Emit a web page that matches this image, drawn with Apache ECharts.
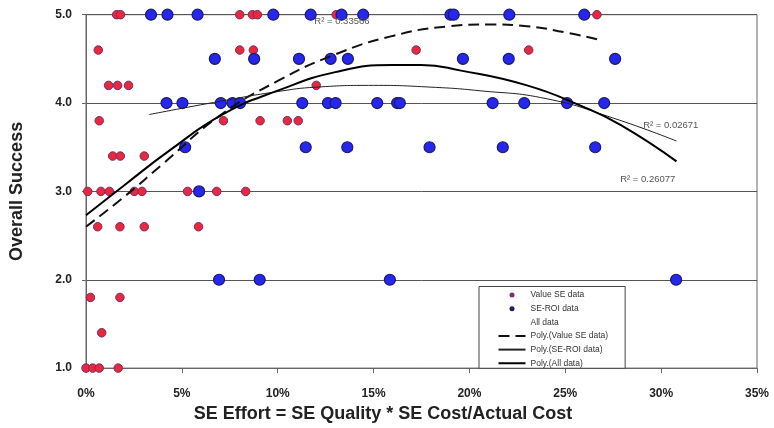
<!DOCTYPE html>
<html>
<head>
<meta charset="utf-8">
<script src="https://cdn.jsdelivr.net/npm/echarts@6/dist/echarts.min.js"></script>
<style>
html,body{margin:0;padding:0;background:#fff;}
#c{width:774px;height:428px;}
</style>
</head>
<body>
<div id="c"></div>
<script>
// Value SE data (red points): [SE effort %, overall success]
var valueSeData = [
  [1.6,5],[1.8,5],[8.02,5],[8.68,5],[8.94,5],[13.05,5],[26.65,5],
  [0.64,4.6],[8.02,4.6],[8.73,4.6],[17.22,4.6],[23.09,4.6],
  [1.18,4.2],[1.65,4.2],[2.22,4.2],[12.01,4.2],
  [0.69,3.8],[7.17,3.8],[9.08,3.8],[10.5,3.8],[11.07,3.8],
  [1.39,3.4],[1.79,3.4],[3.04,3.4],
  [0.09,3],[0.78,3],[1.22,3],[2.52,3],[2.92,3],[5.3,3],[6.82,3],[8.33,3],
  [0.61,2.6],[1.77,2.6],[3.04,2.6],[5.87,2.6],
  [0.23,1.8],[1.77,1.8],
  [0.82,1.4],
  [0.0,1],[0.35,1],[0.69,1],[1.68,1]
];
// SE-ROI data (blue points)
var seRoiData = [
  [3.39,5],[4.25,5],[5.82,5],[9.77,5],[11.72,5],[13.33,5],[14.46,5],[19.01,5],[19.18,5],[22.08,5],[25.99,5],
  [6.72,4.5],[8.77,4.5],[11.11,4.5],[12.76,4.5],[13.66,4.5],[19.66,4.5],[22.05,4.5],[27.6,4.5],
  [4.2,4],[5.03,4],[7.03,4],[7.64,4],[8.04,4],[11.28,4],[12.62,4],[13.02,4],[15.19,4],[16.23,4],[16.37,4],[21.21,4],[22.86,4],[25.09,4],[27.03,4],
  [5.17,3.5],[11.46,3.5],[13.63,3.5],[17.92,3.5],[21.74,3.5],[26.56,3.5],
  [5.9,3],
  [6.94,2],[9.06,2],[15.85,2],[30.78,2]
];
// Trend curves
var polyValueSe = [[0,2.60],[2,2.94],[4,3.31],[7,3.86],[10,4.25],[13,4.55],[16,4.76],[19,4.87],[21,4.89],[23,4.87],[25,4.80],[26.7,4.72]];
var polySeRoi = [[3.3,3.87],[7,4.02],[10,4.13],[12,4.18],[15,4.20],[18,4.18],[20.5,4.14],[24,4.05],[27.5,3.83],[30.8,3.57]];
var polyAll = [[0,2.73],[2,3.07],[4.4,3.47],[7.2,3.88],[10,4.14],[13,4.35],[16,4.43],[17.5,4.43],[19.5,4.37],[23,4.20],[25.8,3.97],[27.9,3.75],[30.8,3.34]];
// R-squared labels
var r2Labels = ['R\u00b2 = 0.33566','R\u00b2 = 0.02671','R\u00b2 = 0.26077'];
var seriesNames = ['Value SE data','SE-ROI data','All data','Poly.(Value SE data)','Poly.(SE-ROI data)','Poly.(All data)'];

var FONT = '"Liberation Sans", Arial, sans-serif';
var chart = echarts.init(document.getElementById('c'));
function r2(label, coord){
  return {
    symbol:'circle', symbolSize:2, silent:true, animation:false,
    itemStyle:{color:'rgba(0,0,0,0)', borderWidth:0},
    label:{show:true, position:'inside', formatter:label, color:'#555', fontSize:9.5, fontFamily:FONT},
    data:[{coord:coord, value:0}]
  };
}
var hiddenSym = {color:'rgba(0,0,0,0)', borderColor:'rgba(0,0,0,0)', borderWidth:0};
chart.setOption({
  animation:false,
  backgroundColor:'#fff',
  grid:{left:85, right:17, top:14.7, bottom:55, show:true, borderColor:'#666', borderWidth:1, backgroundColor:'transparent'},
  xAxis:{
    type:'value', min:0, max:35, interval:5,
    axisLine:{show:true, lineStyle:{color:'#666', width:1}},
    axisTick:{show:true, length:5, lineStyle:{color:'#666'}},
    splitLine:{show:false},
    axisLabel:{formatter:'{value}%', fontSize:12, fontWeight:'bold', color:'#222', fontFamily:FONT, margin:20},
    name:'SE Effort = SE Quality * SE Cost/Actual Cost',
    nameLocation:'middle', nameGap:29,
    nameTextStyle:{fontSize:18, fontWeight:'bold', color:'#222', fontFamily:FONT, padding:[0,77,0,0]}
  },
  yAxis:{
    type:'value', min:1, max:5, interval:1,
    axisLine:{show:true, lineStyle:{color:'#666', width:1}},
    axisTick:{show:true, length:4, lineStyle:{color:'#666'}},
    splitLine:{show:true, lineStyle:{color:'#555', width:1}},
    axisLabel:{formatter:function(v){return v.toFixed(1);}, fontSize:12, fontWeight:'bold', color:'#222', fontFamily:FONT, margin:14},
    name:'Overall Success', nameLocation:'middle', nameGap:60,
    nameTextStyle:{fontSize:18, fontWeight:'bold', color:'#222', fontFamily:FONT}
  },
  legend:{
    orient:'vertical', left:479, top:286.5,
    padding:[3.5,17,0,18.5],
    borderColor:'#444', borderWidth:1, backgroundColor:'#fff',
    itemWidth:27, itemHeight:5, itemGap:3.65,
    textStyle:{fontSize:8.5, color:'#333', fontFamily:FONT, lineHeight:10},
    selectedMode:false,
    data:[
      {name:seriesNames[0], icon:'circle', itemStyle:{color:'#7b2d7b', borderWidth:0}},
      {name:seriesNames[1], icon:'circle', itemStyle:{color:'#1e1e66', borderWidth:0}},
      {name:seriesNames[2], icon:'none'},
      {name:seriesNames[3], itemStyle:hiddenSym},
      {name:seriesNames[4], itemStyle:hiddenSym},
      {name:seriesNames[5], itemStyle:hiddenSym}
    ]
  },
  series:[
    {name:seriesNames[0], type:'scatter', data:valueSeData, symbol:'circle', symbolSize:8.5,
     itemStyle:{color:'#e8283c', borderColor:'#7a2a6a', borderWidth:1, opacity:1}, z:2},
    {name:seriesNames[1], type:'scatter', data:seRoiData, symbol:'circle', symbolSize:11,
     itemStyle:{color:'#2626ee', borderColor:'#1a1a66', borderWidth:1.2, opacity:1}, z:3},
    {name:seriesNames[2], type:'scatter', data:[], symbol:'none'},
    {name:seriesNames[3], type:'line', data:polyValueSe, smooth:true, symbol:'none', showSymbol:false,
     lineStyle:{color:'#111', width:2, type:[11,6]}, itemStyle:{color:'#111'}, z:4,
     markPoint:r2(r2Labels[0],[13.35,4.925])},
    {name:seriesNames[4], type:'line', data:polySeRoi, smooth:true, symbol:'none', showSymbol:false,
     lineStyle:{color:'#222', width:1, type:'solid'}, itemStyle:{color:'#222'}, z:4,
     markPoint:r2(r2Labels[1],[30.5,3.75])},
    {name:seriesNames[5], type:'line', data:polyAll, smooth:true, symbol:'none', showSymbol:false,
     lineStyle:{color:'#000', width:2, type:'solid'}, itemStyle:{color:'#000'}, z:4,
     markPoint:r2(r2Labels[2],[29.3,3.135])}
  ]
});
</script>
</body>
</html>
